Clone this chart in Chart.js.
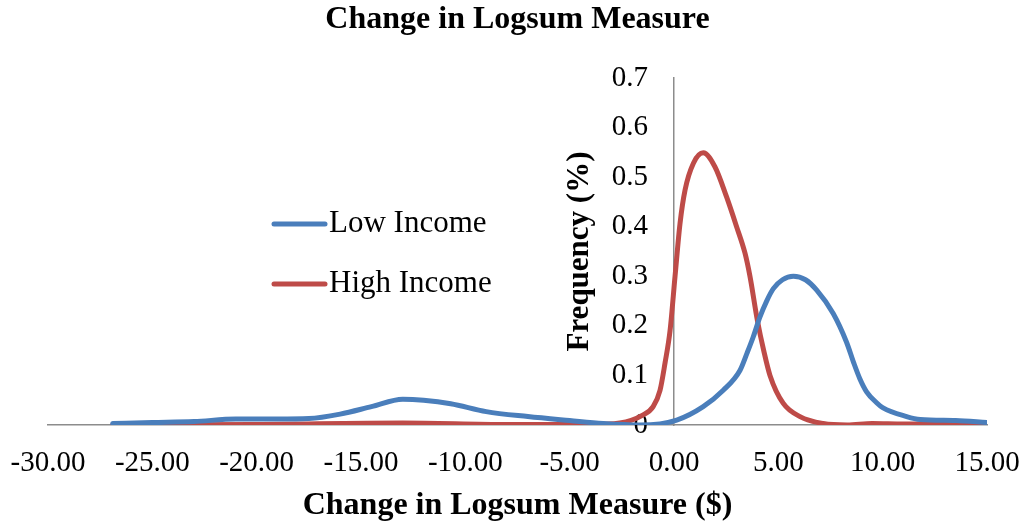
<!DOCTYPE html>
<html><head><meta charset="utf-8">
<script src="https://cdn.jsdelivr.net/npm/chart.js@4/dist/chart.umd.min.js"></script>
<style>html,body{margin:0;padding:0;background:#fff}#wrap{width:1029px;height:526px;position:relative}</style>
</head><body><div id="wrap"><canvas id="c" width="1029" height="526"></canvas></div>
<script>
const chartTitle = 'Change in Logsum Measure';
const xTitle = 'Change in Logsum Measure ($)';
const yTitle = 'Frequency (%)';
const seriesNames = ['Low Income', 'High Income'];
const xTicks = [-30, -25, -20, -15, -10, -5, 0, 5, 10, 15];
const yTicks = [0, 0.1, 0.2, 0.3, 0.4, 0.5, 0.6, 0.7];

const lowIncomeX = [-26.9, -25, -23, -21, -19, -17.5, -16, -14.5, -13, -12, -10.7, -9, -7, -5, -3.4, -1.6, 0.13, 1.4, 2.36, 3.16, 3.5, 3.8, 4.12, 4.44, 4.76, 5.2, 5.72, 6.3, 6.84, 7.63, 8.27, 8.6, 8.9, 9.23, 9.71, 10.0, 11.15, 11.8, 13.5, 15];
const lowIncomeY = [0.003, 0.005, 0.007, 0.012, 0.012, 0.013, 0.022, 0.037, 0.052, 0.05, 0.043, 0.027, 0.017, 0.009, 0.003, 0.0, 0.01, 0.037, 0.07, 0.11, 0.145, 0.178, 0.218, 0.25, 0.275, 0.293, 0.3, 0.293, 0.272, 0.225, 0.167, 0.127, 0.094, 0.067, 0.045, 0.035, 0.017, 0.011, 0.009, 0.005];

const highIncomeX = [-26.9, -20, -13, -8, -4, -2.6, -1.5, -1.0, -0.67, -0.43, -0.19, 0.05, 0.29, 0.53, 0.93, 1.4, 1.96, 2.52, 3.0, 3.4, 3.64, 4.0, 4.3, 4.6, 5.23, 6.04, 7.15, 8.3, 9.5, 11, 15];
const highIncomeY = [0.0, 0.001, 0.004, 0.001, 0.001, 0.004, 0.02, 0.037, 0.07, 0.125, 0.19, 0.3, 0.407, 0.474, 0.528, 0.549, 0.521, 0.46, 0.4, 0.347, 0.3, 0.21, 0.15, 0.1, 0.044, 0.017, 0.003, 0.0, 0.003, 0.002, 0.002];

// x value at which the y tick labels end (they sit left of the crossing axis)
const yLabelAnchor = -1.25;

const colors = ['#4A7EBB', '#BE4B48'];
const serif = 'Liberation Serif';

const toPts = (xs, ys) => xs.map((x, i) => ({x: x, y: ys[i]}));

const yTitlePlugin = {
  id: 'yTitlePlugin',
  afterDraw(chart) {
    const {ctx, chartArea} = chart;
    ctx.save();
    ctx.fillStyle = '#000';
    ctx.font = 'bold 31px "' + serif + '"';
    ctx.textAlign = 'center';
    ctx.textBaseline = 'middle';
    ctx.translate(580, (chartArea.top + chartArea.bottom) / 2);
    ctx.rotate(-Math.PI / 2);
    ctx.fillText(yTitle, 0, 0);
    ctx.restore();
  }
};

const legendPlugin = {
  id: 'insideLegend',
  afterDraw(chart) {
    const {ctx} = chart;
    const ys = [224, 284];
    chart.data.datasets.forEach((ds, i) => {
      ctx.save();
      ctx.strokeStyle = ds.borderColor;
      ctx.lineWidth = 5;
      ctx.lineCap = 'round';
      ctx.beginPath();
      ctx.moveTo(274, ys[i]);
      ctx.lineTo(325, ys[i]);
      ctx.stroke();
      ctx.fillStyle = '#000';
      ctx.font = '31px "' + serif + '"';
      ctx.textAlign = 'left';
      ctx.textBaseline = 'middle';
      ctx.fillText(ds.label, 329, ys[i]);
      ctx.restore();
    });
  }
};

const yTickCallback = v => v === 0 ? '0' : Number(v).toFixed(1);

const lineStyle = {showLine: true, borderWidth: 5, pointRadius: 0, cubicInterpolationMode: 'monotone', fill: false, borderCapStyle: 'round', borderJoinStyle: 'round'};

new Chart(document.getElementById('c'), {
  type: 'scatter',
  data: {
    datasets: [
      Object.assign({label: seriesNames[0], data: toPts(lowIncomeX, lowIncomeY), borderColor: colors[0], backgroundColor: colors[0]}, lineStyle),
      Object.assign({label: seriesNames[1], data: toPts(highIncomeX, highIncomeY), borderColor: colors[1], backgroundColor: colors[1]}, lineStyle)
    ]
  },
  options: {
    responsive: false,
    animation: false,
    layout: {padding: {left: 48, right: 42, top: 0, bottom: 0}},
    plugins: {
      legend: {display: false},
      tooltip: {enabled: false},
      title: {display: true, text: chartTitle, color: '#000', font: {family: serif, size: 32, weight: 'bold'}, padding: {top: 1, bottom: 38.6}}
    },
    scales: {
      x: {
        type: 'linear', min: -30, max: 15,
        afterBuildTicks: s => { s.ticks = xTicks.map(v => ({value: v})); },
        afterFit: s => { s.height = 101; s.paddingLeft = 0; s.paddingRight = 0; },
        grid: {display: false, drawTicks: false, tickLength: 0},
        border: {display: true, color: '#8C8C8C', width: 1.5},
        ticks: {padding: 20.6, color: '#000', font: {family: serif, size: 29}, maxRotation: 0, autoSkip: false, callback: v => Number(v).toFixed(2)},
        title: {display: true, text: xTitle, color: '#000', font: {family: serif, size: 32, weight: 'bold'}, padding: {top: 6.4, bottom: 0.8}}
      },
      y: {
        type: 'linear', position: {x: 0}, min: 0, max: 0.7,
        afterBuildTicks: s => { s.ticks = yTicks.map(v => ({value: v})); },
        grid: {display: false, drawTicks: false, tickLength: 0},
        border: {display: true, color: '#8C8C8C', width: 1.5},
        ticks: {display: false},
        title: {display: false, text: yTitle}
      },
      yLabels: {
        type: 'linear', axis: 'y', position: {x: yLabelAnchor}, min: 0, max: 0.7,
        afterBuildTicks: s => { s.ticks = yTicks.map(v => ({value: v})); },
        grid: {display: false, drawTicks: false, tickLength: 0},
        border: {display: false},
        ticks: {padding: 0, color: '#000', font: {family: serif, size: 29}, autoSkip: false, callback: yTickCallback}
      }
    }
  },
  plugins: [yTitlePlugin, legendPlugin]
});
</script></body></html>
